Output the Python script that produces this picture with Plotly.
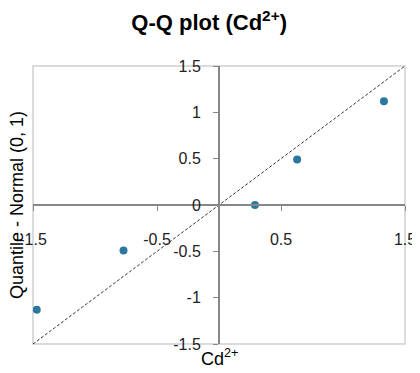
import plotly.graph_objects as go

# Data
cd_values = [-1.47, -0.77, 0.29, 0.63, 1.33]
normal_quantiles = [-1.13, -0.49, 0.0, 0.49, 1.12]
ref_line = [-1.5, 1.5]
x_ticks = [-1.5, -0.5, 0.5, 1.5]
y_ticks = [-1.5, -1, -0.5, 0, 0.5, 1, 1.5]

FONT = "Liberation Sans, Arial, sans-serif"
AXIS = "#878787"

fig = go.Figure()
fig.add_trace(go.Scatter(x=ref_line, y=ref_line, mode="lines",
                         line=dict(color="black", width=0.8, dash="3px,2px"),
                         hoverinfo="skip", showlegend=False))
fig.add_trace(go.Scatter(x=cd_values, y=normal_quantiles, mode="markers",
                         marker=dict(color="#2C77A0", size=8),
                         showlegend=False))

fig.update_layout(
    width=420, height=373,
    margin=dict(l=25, r=23, t=58, b=37),
    paper_bgcolor="white", plot_bgcolor="white",
    font=dict(family=FONT, size=16, color="#222222"),
    title=dict(text="<b>Q-Q plot (Cd<sup>2+</sup>)</b>", x=0.479, xanchor="center",
               y=0.962, yanchor="middle", font=dict(family=FONT, size=22, color="black")),
    xaxis=dict(range=[-1.5, 1.5], anchor="free", position=0.5, automargin=False,
               showline=True, linecolor=AXIS, linewidth=2,
               ticks="outside", ticklen=5, tickcolor=AXIS, tickwidth=1,
               tickvals=x_ticks, ticktext=[str(v) for v in x_ticks],
               ticklabelstandoff=15,
               showgrid=False, zeroline=False),
    yaxis=dict(range=[-1.5, 1.5], anchor="free", position=0.5, automargin=False,
               showline=True, linecolor=AXIS, linewidth=2,
               ticks="outside", ticklen=5, tickcolor=AXIS, tickwidth=1,
               tickvals=y_ticks, ticktext=[("%g" % v) for v in y_ticks],
               ticklabelstandoff=9,
               showgrid=False, zeroline=False),
    shapes=[dict(type="rect", xref="paper", yref="paper", x0=0, x1=1, y0=0, y1=1,
                 line=dict(color="#D0D0D0", width=1.5), layer="below")],
    annotations=[
        dict(text="Quantile - Normal (0, 1)", xref="paper", yref="paper",
             x=0, y=0.5, xshift=-16, textangle=-90, showarrow=False,
             xanchor="center", yanchor="middle", font=dict(size=18, color="black")),
        dict(text="Cd<sup>2+</sup>", xref="paper", yref="paper",
             x=0.5, y=0, yshift=-13, showarrow=False,
             xanchor="center", yanchor="middle", font=dict(size=18, color="black")),
    ],
)

fig.write_html("out.html")
